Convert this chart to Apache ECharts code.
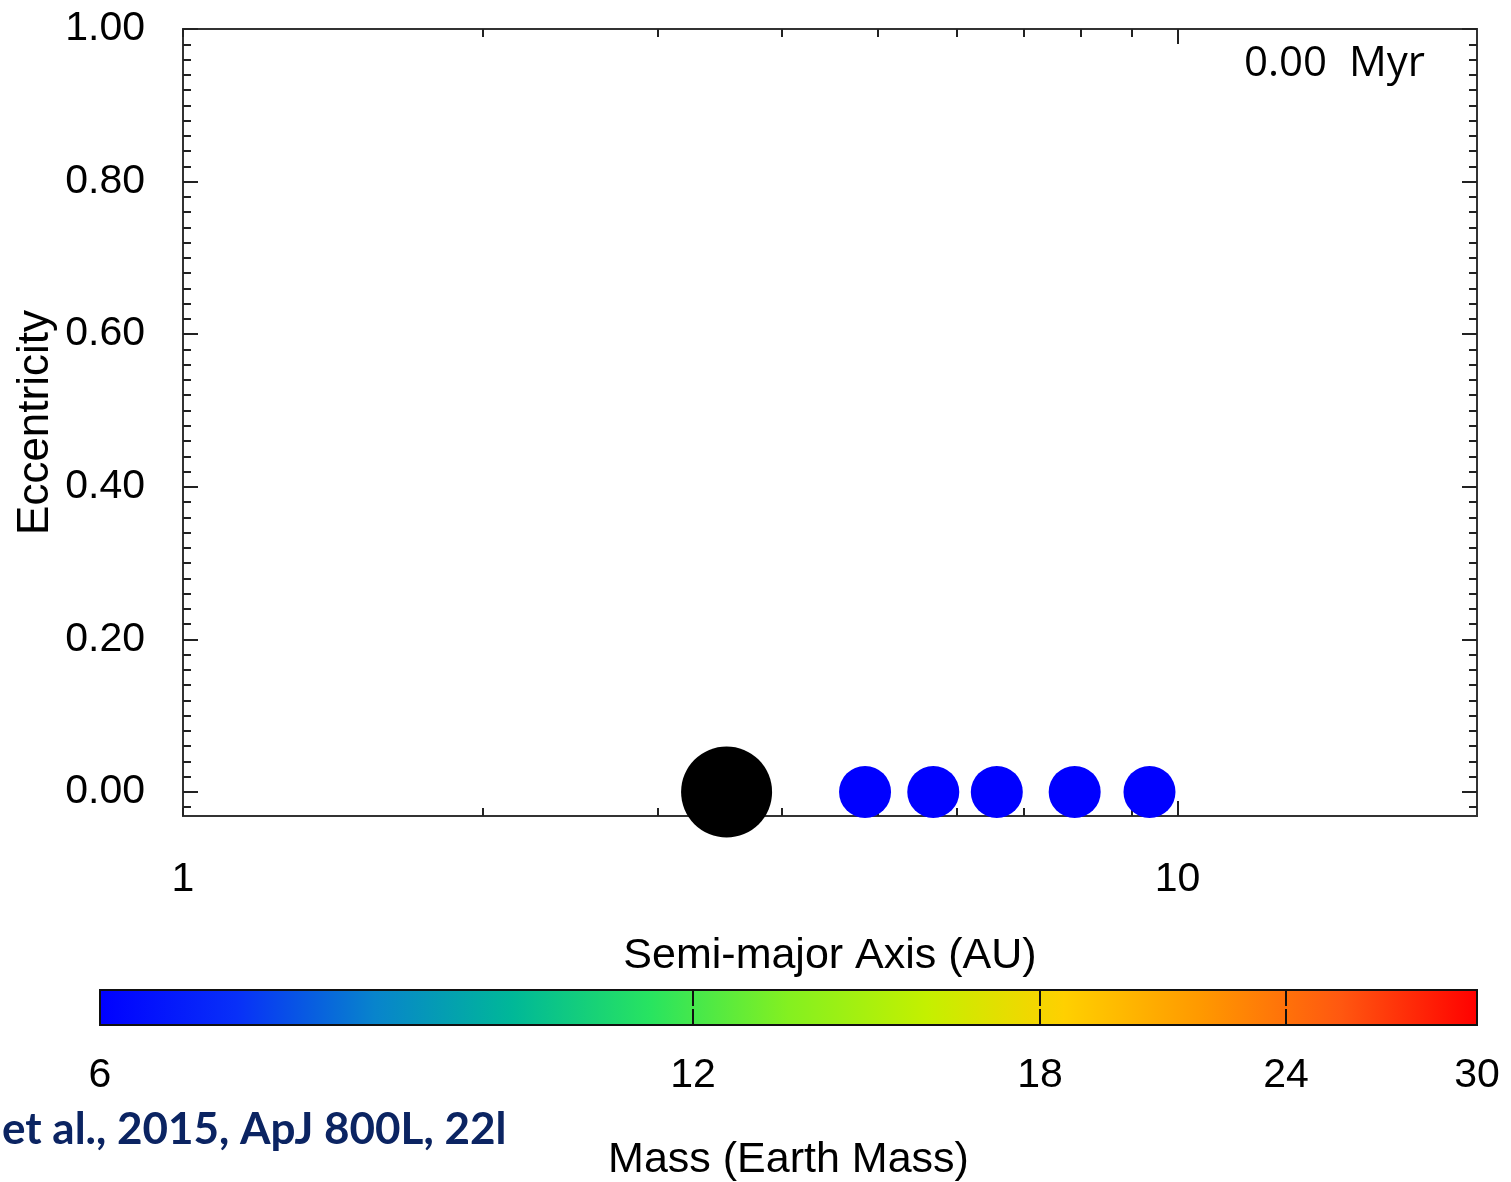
<!DOCTYPE html>
<html>
<head>
<meta charset="utf-8">
<script src="https://cdn.jsdelivr.net/npm/echarts@6/dist/echarts.min.js"></script>
<style>
  html, body { margin: 0; padding: 0; background: #ffffff; }
  #chart { width: 1511px; height: 1182px; }
</style>
</head>
<body>
<div id="chart"></div>
<script>
// ---- data ----
const planetNames = ['Jupiter', 'SE1', 'SE2', 'SE3', 'SE4', 'SE5'];
const semiMajorAxisAU = [3.52, 4.85, 5.68, 6.58, 7.88, 9.37];
const eccentricity = [0.0, 0.0, 0.0, 0.0, 0.0, 0.0];
const massEarth = [318, 6, 6, 6, 6, 6];

// ---- axis ticks / labels ----
const xLabelValues = [1, 10];
const xMinorTickValues = [1, 2, 3, 4, 5, 6, 7, 8, 9];
const xMajorTickValues = [10];
const yLabelValues = [0, 0.2, 0.4, 0.6, 0.8, 1.0];
const colorbarLabelValues = [6, 12, 18, 24, 30];
const colorbarTickValues = [12, 18, 24];
const massColors = ['#0000ff', '#0830f8', '#0884cc', '#00b898', '#28e460', '#84f020',
                    '#c4f000', '#ffd000', '#ff9800', '#ff5810', '#ff0000'];
const timeLabel = '0.00  Myr';
const citation = 'et al., 2015, ApJ 800L, 22l';

const yMinorTickValues = [];
for (let i = -1; i <= 50; i++) yMinorTickValues.push(+(i * 0.02).toFixed(2));

const massMin = 6, massMax = 30;
const seriesData = semiMajorAxisAU.map((a, i) => ({
  name: planetNames[i],
  value: [a, eccentricity[i], massEarth[i], Math.log10(massEarth[i])]
}));

const LABEL_FONT = 'Liberation Sans';
const AXC = '#222';

function xLogAxis(pos, ticks, len, showLabels) {
  return {
    type: 'log', logBase: 10, gridIndex: 0, position: pos, min: 1, max: 20,
    axisLine: { show: false, onZero: false },
    splitLine: { show: false },
    minorTick: { show: false },
    axisTick: { show: true, inside: true, length: len, customValues: ticks,
                lineStyle: { color: AXC, width: 2 } },
    axisLabel: showLabels ? {
      show: true, customValues: xLabelValues, margin: 43,
      fontFamily: LABEL_FONT, fontSize: 41, color: '#000',
      formatter: v => String(Math.round(v))
    } : { show: false }
  };
}
function yValAxis(pos, ticks, len, showLabels) {
  return {
    type: 'value', gridIndex: 0, position: pos, min: -0.0315, max: 1.0,
    axisLine: { show: false, onZero: false },
    splitLine: { show: false },
    axisTick: { show: true, inside: true, length: len, customValues: ticks,
                lineStyle: { color: AXC, width: 2 } },
    axisLabel: showLabels ? {
      show: true, customValues: yLabelValues, margin: 38,
      fontFamily: LABEL_FONT, fontSize: 41, color: '#000',
      formatter: v => v.toFixed(2)
    } : { show: false }
  };
}

const xMain = xLogAxis('bottom', xMinorTickValues, 8, true);
xMain.name = 'Semi-major Axis (AU)';
xMain.nameLocation = 'middle';
xMain.nameGap = 119;
xMain.nameMoveOverlap = false;
xMain.nameTextStyle = { fontFamily: LABEL_FONT, fontSize: 43, color: '#000' };

const yMain = yValAxis('left', yLabelValues, 15, true);
yMain.name = 'Eccentricity';
yMain.nameLocation = 'middle';
yMain.nameRotate = 90;
yMain.nameGap = 125;
yMain.nameMoveOverlap = false;
yMain.nameTextStyle = { fontFamily: LABEL_FONT, fontSize: 44, color: '#000' };

function cbAxis(pos, showLabels) {
  const ax = {
    type: 'log', logBase: 10, gridIndex: 1, position: pos, min: massMin, max: massMax,
    axisLine: { show: false, onZero: false },
    splitLine: { show: false },
    minorTick: { show: false },
    axisTick: { show: true, inside: true, length: 16, customValues: colorbarTickValues,
                lineStyle: { color: '#111', width: 2 } },
    axisLabel: showLabels ? {
      show: true, customValues: colorbarLabelValues, margin: 30,
      fontFamily: LABEL_FONT, fontSize: 41, color: '#000',
      formatter: v => String(Math.round(v))
    } : { show: false }
  };
  if (showLabels) {
    ax.name = 'Mass (Earth Mass)';
    ax.nameLocation = 'middle';
    ax.nameGap = 114;
    ax.nameMoveOverlap = false;
    ax.nameTextStyle = { fontFamily: LABEL_FONT, fontSize: 43, color: '#000' };
  }
  return ax;
}

const chart = echarts.init(document.getElementById('chart'), null, { renderer: 'canvas' });
chart.setOption({
  backgroundColor: '#ffffff',
  animation: false,
  grid: [
    { left: 183, top: 29, width: 1294, height: 787, show: true,
      backgroundColor: 'transparent', borderColor: '#333', borderWidth: 2,
      outerBoundsMode: 'none', containLabel: false },
    { left: 100, top: 990, width: 1377, height: 35, show: true,
      backgroundColor: { type: 'linear', x: 0, y: 0, x2: 1, y2: 0,
        colorStops: massColors.map((c, i) => ({ offset: i / (massColors.length - 1), color: c })) },
      borderColor: '#111', borderWidth: 2,
      outerBoundsMode: 'none', containLabel: false }
  ],
  xAxis: [
    xMain,
    xLogAxis('top', xMinorTickValues, 8, false),
    xLogAxis('bottom', xMajorTickValues, 15, false),
    xLogAxis('top', xMajorTickValues, 15, false),
    cbAxis('bottom', true),
    cbAxis('top', false)
  ],
  yAxis: [
    yMain,
    yValAxis('left', yMinorTickValues, 8, false),
    yValAxis('right', yLabelValues, 15, false),
    yValAxis('right', yMinorTickValues, 8, false),
    { type: 'value', gridIndex: 1, show: false, min: 0, max: 1 }
  ],
  visualMap: {
    type: 'continuous', show: false, seriesIndex: 0, dimension: 3,
    min: Math.log10(massMin), max: Math.log10(massMax),
    range: [Math.log10(massMin), Math.log10(massMax) - 1e-9],
    inRange: { color: massColors },
    outOfRange: { color: '#000000' }
  },
  graphic: [
    { type: 'text', left: 1244, top: 43, z: 10,
      style: { text: timeLabel, font: '42px "Open Sans"', fill: '#000' } },
    { type: 'text', left: 2, top: 1108, z: 10,
      style: { text: citation, font: 'bold 44px Lato', fill: '#0b2462' } }
  ],
  series: [{
    type: 'scatter', xAxisIndex: 0, yAxisIndex: 0, clip: false, z: 5,
    symbol: 'circle',
    symbolSize: d => Math.min(91, 52 * Math.cbrt(d[2] / massMin)),
    itemStyle: { opacity: 1 },
    data: seriesData
  }]
});
</script>
</body>
</html>
